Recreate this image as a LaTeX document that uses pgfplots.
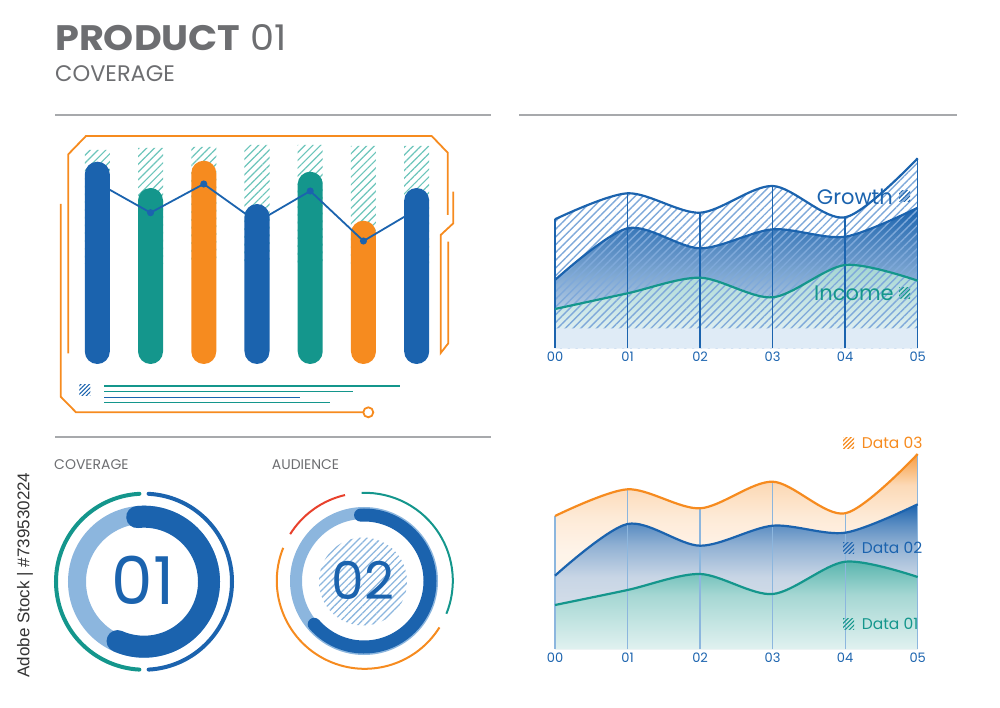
\documentclass[border=0pt]{standalone}
\usepackage{fontspec}
\setmainfont{Poppins}
\newfontfamily\wmfont{Liberation Sans}
\usepackage{pgfplots}
\usepackage{pgfplotstable}
\pgfplotsset{compat=1.18}
\usetikzlibrary{patterns.meta}
\definecolor{blueD}{HTML}{1B63AE}
\definecolor{tealD}{HTML}{14968C}
\definecolor{orangeD}{HTML}{F68B1F}
\definecolor{blueL}{HTML}{8CB6DE}
\definecolor{grayT}{HTML}{6D6E71}
\definecolor{grayL}{HTML}{A7A9AC}
\definecolor{redD}{HTML}{E8412C}
\definecolor{hatchT}{HTML}{6CC5BB}
\definecolor{hatchB}{HTML}{7FA9DA}
\definecolor{bandB}{HTML}{DFEBF6}
\definecolor{grayB}{HTML}{E4E8EE}
\newcommand\fs[1]{\fontsize{#1}{#1}\selectfont}

\pgfdeclareverticalshading{orangefade}{100bp}{color(0bp)=(orangeD!5!white); color(25bp)=(orangeD!5!white); color(50bp)=(orangeD!10!white); color(59bp)=(orangeD!18!white); color(67bp)=(orangeD!32!white); color(75bp)=(orangeD!85!white); color(100bp)=(orangeD!85!white)}
\pgfdeclareverticalshading{bluefade}{100bp}{color(0bp)=(grayB); color(25bp)=(grayB); color(50bp)=(blueD!14!grayB); color(61bp)=(blueD!42!grayB); color(68bp)=(blueD!68!grayB); color(75bp)=(blueD); color(100bp)=(blueD)}
\pgfdeclareverticalshading{tealfade}{100bp}{color(0bp)=(tealD!13!white); color(25bp)=(tealD!13!white); color(55bp)=(tealD!38!white); color(75bp)=(tealD!72!white); color(100bp)=(tealD!72!white)}

\pgfplotstableread{
x growth revenue income band
0 129   68.3  39.3 20
1 155   120   55   20
2 135.6 100   70.6 20
3 162.3 119   51   20
4 131   111.6 83.3 20
5 190   140.6 67.6 20
}\toptable

\pgfplotstableread{
x d3    d2    d1
0 133.3 73.6  44.3
1 160   125.3 59.3
2 141   103.6 75.3
3 167.6 123.6 55.3
4 136   116.6 87.6
5 195.3 145   72.3
}\bottable

\pgfplotsset{
  areachart/.style={scale only axis, width=362.7pt, height=200pt,
    xmin=0, xmax=5, ymin=0, ymax=200, anchor=south west,
    axis line style={draw=none}, major tick length=0pt,
    xtick={0,...,5}, xticklabels={00,01,02,03,04,05}, ytick=\empty,
    xticklabel style={font=\fs{13}, text=blueD}, clip=false},
  barchart/.style={scale only axis, width=372.6pt, height=220pt,
    xmin=-0.5, xmax=6.5, ymin=0, ymax=220, hide axis,
    at={(70.7pt,343pt)}, anchor=south west, clip=false},
}

\newcommand\hatchsq[3]{\fill[pattern={Lines[angle=45,distance=3pt,line width=1.1pt]}, pattern color=#3] (#1,#2) rectangle ++(11,11);}

\begin{document}
\begin{tikzpicture}[x=1pt,y=1pt]
\path (0,0) rectangle (1000,707);

% ---------- title ----------
\node[anchor=base west, inner sep=0, text=grayT, font=\fs{35.4}] at (55,656.3) {\scalebox{1.08}[1]{\textbf{PRODUCT} 01}};
\node[anchor=base west, inner sep=0, text=grayT, font=\fs{22.5}] at (55,625.3) {COVERAGE};

% separators
\draw[grayL, line width=1.4pt] (55,592) -- (491,592);
\draw[grayL, line width=1.4pt] (519,592) -- (957,592);
\draw[grayL, line width=1.4pt] (55,270) -- (491,270);

% ---------- bar panel frame ----------
\begin{scope}[orangeD, line width=1.8pt]
\draw (447.7,492) -- (447.7,554.3) -- (431.7,571) -- (86,571) -- (68.3,552.7) -- (68.3,353.7);
\draw (60.7,503) -- (60.7,310.3) -- (76,294.7) -- (363,294.7);
\draw (368.3,294.7) circle[radius=5];
\draw (453.3,515.3) -- (453.3,483.7) -- (440.7,472) -- (440.7,354) -- (448.3,363.7) -- (448.3,465.3);
\end{scope}
\hatchsq{79.3}{311}{blueD}
\draw[tealD, line width=1.3pt] (104,321) -- (400,321);
\draw[tealD, line width=1.3pt] (104,315.3) -- (353,315.3);
\draw[blueD, line width=1.3pt] (104,309.7) -- (300,309.7);
\draw[tealD, line width=1.3pt] (104,304.3) -- (330,304.3);

% hatch backgrounds
\begin{axis}[barchart, ybar stacked, bar width=25pt]
\addplot[draw=none, fill=none] coordinates {(0,100) (1,100) (2,100) (3,100) (4,100) (5,100) (6,100)};
\addplot[draw=none, pattern={Lines[angle=45,distance=5.5pt,line width=1.2pt]}, pattern color=hatchT]
  coordinates {(0,114) (1,116) (2,117) (3,119) (4,119) (5,118) (6,118)};
\end{axis}
% bars and line
\begin{axis}[barchart]
\addplot[ybar, bar width=25pt, bar shift=0pt, fill=blueD, draw=none, rounded corners=12.5pt]
  coordinates {(0,202.3) (3,160) (6,176)};
\addplot[ybar, bar width=25pt, bar shift=0pt, fill=tealD, draw=none, rounded corners=12.5pt]
  coordinates {(1,176) (4,192.3)};
\addplot[ybar, bar width=25pt, bar shift=0pt, fill=orangeD, draw=none, rounded corners=12.5pt]
  coordinates {(2,203.3) (5,143.3)};
\addplot[blueD, line width=1.8pt, mark=*, mark size=2.6pt, mark options={fill=blueD, draw=none}]
  coordinates {(0,181.2) (1,151.3) (2,180) (3,142) (4,173) (5,123) (6,154.5)};
\end{axis}

% ---------- top right area chart ----------
\begin{axis}[areachart, at={(555pt,358.7pt)}]
\addplot[draw=none, smooth, top color=blueD, middle color=blueD!20!white, bottom color=blueD!8!white]
  table[x=x,y=revenue]{\toptable} \closedcycle;
\addplot[draw=none, smooth, top color=tealD!40!white, bottom color=tealD!14!blueD!6!white]
  table[x=x,y=income]{\toptable} \closedcycle;
\addplot[draw=none, smooth, pattern={Lines[angle=45,distance=5.5pt,line width=1.4pt]}, pattern color=hatchB]
  table[x=x,y=growth]{\toptable} \closedcycle;
\addplot[draw=none, fill=bandB] table[x=x,y=band]{\toptable} \closedcycle;
\addplot[ycomb, blueD, line width=1.5pt] table[x=x,y=growth]{\toptable};
\addplot[blueD, line width=2.2pt, smooth] table[x=x,y=growth]{\toptable};
\addplot[blueD, line width=2.2pt, smooth] table[x=x,y=revenue]{\toptable};
\addplot[tealD, line width=2.2pt, smooth] table[x=x,y=income]{\toptable};
\end{axis}
\node[anchor=west, inner sep=0, text=blueD, font=\fs{21}] at (816.7,510.3) {Growth};
\hatchsq{899}{505}{blueD}
\node[anchor=west, inner sep=0, text=tealD, font=\fs{21}] at (814,413.7) {Income};
\hatchsq{899}{408}{tealD}

% ---------- bottom right area chart ----------
\begin{axis}[areachart, at={(555pt,57.7pt)}]
\addplot[draw=none, smooth, shade, shading=orangefade]
  table[x=x,y=d3]{\bottable} \closedcycle;
\addplot[draw=none, smooth, shade, shading=bluefade]
  table[x=x,y=d2]{\bottable} \closedcycle;
\addplot[draw=none, smooth, shade, shading=tealfade]
  table[x=x,y=d1]{\bottable} \closedcycle;
\addplot[ycomb, blueL, line width=1.2pt] table[x=x,y=d3]{\bottable};
\addplot[orangeD, line width=2.2pt, smooth] table[x=x,y=d3]{\bottable};
\addplot[blueD, line width=2.2pt, smooth] table[x=x,y=d2]{\bottable};
\addplot[tealD, line width=2.2pt, smooth] table[x=x,y=d1]{\bottable};
\end{axis}
\hatchsq{843}{258.5}{orangeD}
\node[anchor=west, inner sep=0, text=orangeD, font=\fs{15.5}] at (861.7,264.3) {Data 03};
\hatchsq{843}{153.5}{blueD}
\node[anchor=west, inner sep=0, text=blueD, font=\fs{15.5}] at (861.7,159.3) {Data 02};
\hatchsq{843}{77.5}{tealD}
\node[anchor=west, inner sep=0, text=tealD, font=\fs{15.5}] at (861.7,83) {Data 01};

% ---------- circles ----------
\node[anchor=west, inner sep=0, text=grayT, font=\fs{14}] at (54,242) {COVERAGE};
\node[anchor=west, inner sep=0, text=grayT, font=\fs{14}] at (271.7,242) {AUDIENCE};

% circle 1
\draw[tealD, line width=4pt, line cap=round] (144,125.3) ++(93:88) arc[start angle=93, end angle=267, radius=88];
\draw[blueD, line width=4pt, line cap=round] (144,125.3) ++(87:88) arc[start angle=87, end angle=-87, radius=88];
\draw[blueL, line width=18pt] (144,125.3) circle[radius=67];
\draw[blueD, line width=22pt, line cap=round] (144,125.3) ++(96:65) arc[start angle=96, end angle=-114, radius=65];
\node[anchor=base, inner sep=0, text=blueD, font=\fs{66}] at (143,102.3) {01};

% circle 2
\draw[orangeD, line width=2pt] (364.8,126.2) ++(158:88) arc[start angle=158, end angle=328, radius=88];
\draw[redD, line width=2pt] (364.8,126.2) ++(103:88) arc[start angle=103, end angle=148, radius=88];
\draw[tealD, line width=2pt] (364.8,126.2) ++(92:88) arc[start angle=92, end angle=-22, radius=88];
\fill[pattern={Lines[angle=45,distance=5pt,line width=1.3pt]}, pattern color=blueL] (363,125.5) circle[radius=44];
\draw[blueL, line width=12pt] (364,126) circle[radius=68];
\draw[blueD, line width=13pt, line cap=round] (364,126) ++(93:66) arc[start angle=93, end angle=-139, radius=66];
\node[anchor=base, inner sep=0, text=blueD, font=\fs{52}] at (363,107.5) {02};

% side text
\node[rotate=90, inner sep=0, text=black!80, font=\wmfont\fs{17}] at (25,132) {Adobe Stock | \#739530224};
\end{tikzpicture}
\end{document}
